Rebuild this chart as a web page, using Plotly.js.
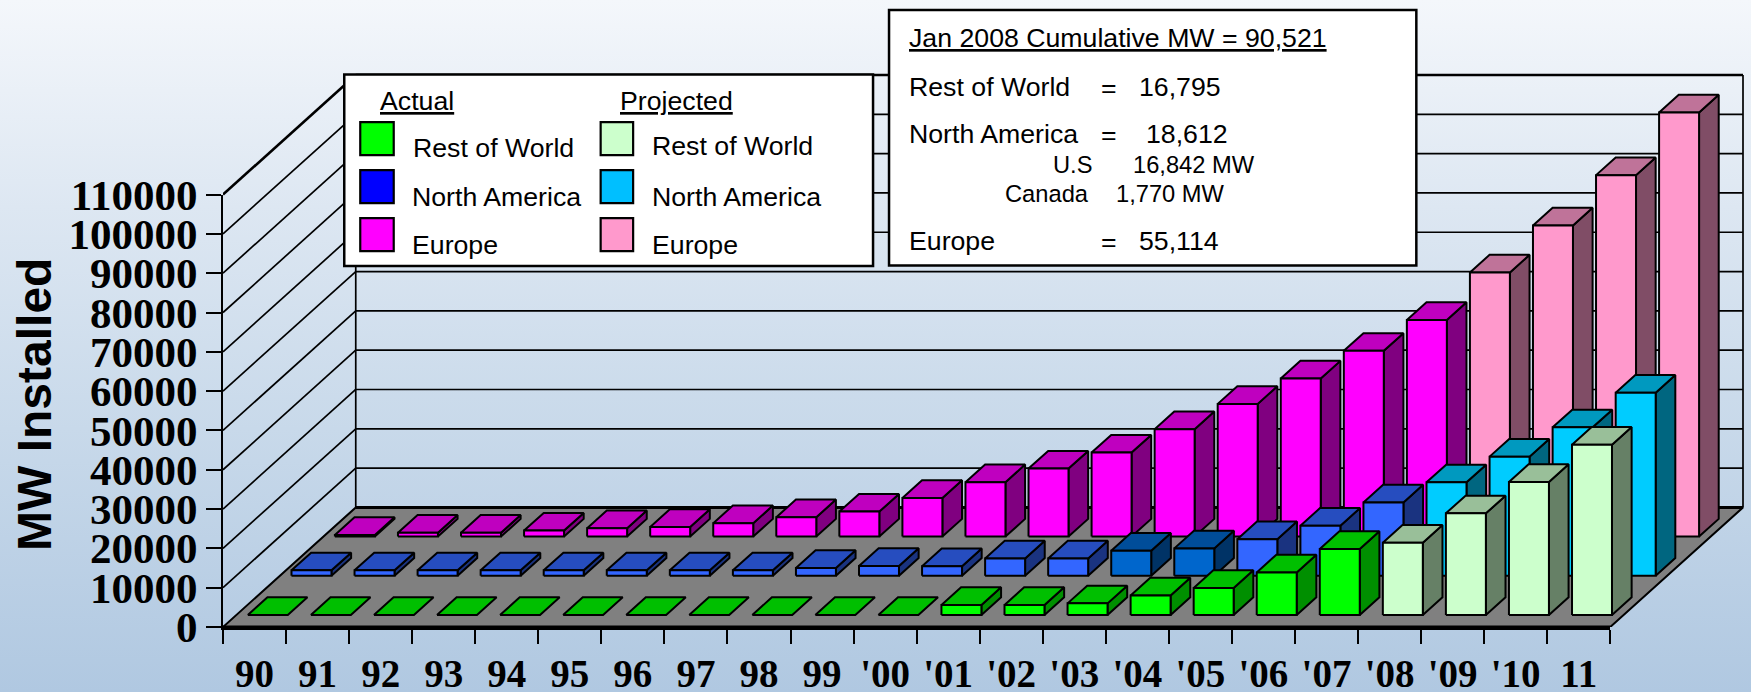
<!DOCTYPE html>
<html>
<head>
<meta charset="utf-8">
<script src="https://cdn.plot.ly/plotly-3.0.1.min.js"></script>
<style>
html,body{margin:0;padding:0;width:1751px;height:692px;overflow:hidden;background:linear-gradient(180deg,#f4f7fb 0%,#dde7f2 30%,#c8d9ea 62%,#b0c8e1 100%);}
#chart{width:1751px;height:692px;}
</style>
</head>
<body>
<div id="chart"></div>
<script>
// ---------- data ----------
const categories = ["90","91","92","93","94","95","96","97","98","99","'00","'01","'02","'03","'04","'05","'06","'07","'08","'09","'10","11"];
const yTicks = [0,10000,20000,30000,40000,50000,60000,70000,80000,90000,100000,110000];
const restOfWorld = [0,0,0,0,0,0,0,0,0,0,0,2550,2550,2970,5000,6870,10850,16795,18400,25870,33840,43340];
const northAmerica = [1360,1360,1360,1360,1360,1360,1360,1360,1950,2470,2400,4400,4400,6360,6950,9300,12700,18612,23750,30290,37740,46560];
const europe = [400,1000,1000,1530,2120,2460,3400,4920,6360,9840,13820,17300,21370,27300,33760,40200,47250,55114,67180,79140,91950,107900];
const firstProjected = 18;
const darkBlueYears = ["'03","'04"];

// ---------- page geometry ----------
const W = 1751, H = 692;
const L = 222.7, R = 1610.5, T = 194.5, B = 627;   // front plane of the chart
const PAD = 4;                                     // keeps the frame's strokes inside the clip area
const pxX = (R - L) / categories.length;
const pxY = (B - T) / 110000;
const depthX = 132.8 / pxX;         // floor depth, in category units
const depthY = 119.6 / pxY;         // floor depth, in MW units
const RR = R + 132.8 + PAD, TT = T - 119.6 - PAD;  // outer plot area including depth
const barHalf = 20 / pxX;
const barDepth = 0.148;
const rows = {green: 0.1, blue: 0.429, magenta: 0.756};

const palette = {
  green:   {front:'#00FF00', top:'#00BF00', side:'#008F00'},
  pale:    {front:'#CCFFCC', top:'#99BF99', side:'#668066'},
  blue:    {front:'#3366FF', top:'#264DBF', side:'#1A3380'},
  dark:    {front:'#0066CC', top:'#004D99', side:'#003366'},
  cyan:    {front:'#00CCFF', top:'#0099BF', side:'#006680'},
  magenta: {front:'#FF00FF', top:'#BF00BF', side:'#800080'},
  pink:    {front:'#FF99CC', top:'#BF7399', side:'#804D66'}
};

// ---------- projection helpers ----------
function polyTrace(name, color, polys, width) {
  const x = [], y = [];
  polys.forEach(p => { p.forEach(q => { x.push(q[0]); y.push(q[1]); }); x.push(p[0][0]); y.push(p[0][1]); x.push(null); y.push(null); });
  return {type:'scatter', mode:'lines', name, x, y, fill:'toself', fillcolor:color,
          line:{color:'#000', width:width || 2, simplify:false}, hoverinfo:'skip', showlegend:false};
}
function lineTrace(name, segs, width) {
  const x = [], y = [];
  segs.forEach(s => { s.forEach(q => { x.push(q[0]); y.push(q[1]); }); x.push(null); y.push(null); });
  return {type:'scatter', mode:'lines', name, x, y,
          line:{color:'#000', width, simplify:false}, hoverinfo:'skip', showlegend:false};
}
function project(cat, mw, t) { return [cat + t * depthX, mw + t * depthY]; }
function barTraces(label, values, idx, rowT, colors) {
  const side = [], top = [], front = [];
  idx.forEach(i => {
    const a = i + 0.5 - barHalf, b = i + 0.5 + barHalf, v = values[i], t0 = rowT, t1 = rowT + barDepth;
    top.push([project(a,v,t0), project(b,v,t0), project(b,v,t1), project(a,v,t1)]);
    if (v > 0) {
      side.push([project(b,0,t0), project(b,0,t1), project(b,v,t1), project(b,v,t0)]);
      front.push([project(a,0,t0), project(b,0,t0), project(b,v,t0), project(a,v,t0)]);
    }
  });
  const out = [];
  if (side.length) out.push(polyTrace(label + ' side', colors.side, side));
  out.push(polyTrace(label + ' top', colors.top, top));
  if (front.length) out.push(polyTrace(label + ' front', colors.front, front));
  return out;
}

// ---------- walls and floor ----------
const n = categories.length, maxTick = yTicks[yTicks.length - 1];
const traces = [];
const thin = [], thick = [];
yTicks.forEach(v => {
  if (v > 0) {
    const seg1 = [project(0,v,0), project(0,v,1)];
    const seg2 = [project(0,v,1), project(n,v,1)];
    (v === maxTick ? thick : thin).push(seg1, seg2);
  }
});
thin.push([project(0,0,1), project(0,maxTick,1)], [project(n,0,1), project(n,maxTick,1)]);
traces.push(lineTrace('Wall grid', thin, 1.7));
traces.push(lineTrace('Wall top', thick, 2.6));
traces.push(polyTrace('Floor', '#808080', [[[0,0],[n,0],[n+depthX,depthY],[depthX,depthY]]], 2));
traces.push(lineTrace('Floor back edge', [[project(0,0,1), project(n,0,1)]], 3));

const all = categories.map((c, i) => i);
const actual = all.filter(i => i < firstProjected);
const projected = all.filter(i => i >= firstProjected);
const isDark = i => darkBlueYears.includes(categories[i]);

traces.push(...barTraces('Europe actual', europe, actual, rows.magenta, palette.magenta));
traces.push(...barTraces('Europe projected', europe, projected, rows.magenta, palette.pink));
traces.push(...barTraces('North America actual', northAmerica, actual.filter(i => !isDark(i)), rows.blue, palette.blue));
traces.push(...barTraces('North America actual (dark)', northAmerica, actual.filter(isDark), rows.blue, palette.dark));
traces.push(...barTraces('North America projected', northAmerica, projected, rows.blue, palette.cyan));
traces.push(...barTraces('Rest of World actual', restOfWorld, actual, rows.green, palette.green));
traces.push(...barTraces('Rest of World projected', restOfWorld, projected, rows.green, palette.pale));

// the front-plane subplot carries the native axes and ticks
const axisCarrier = {type:'scatter', mode:'lines', name:'Axis frame', x:[0,n], y:[0,0], xaxis:'x2', yaxis:'y2',
                     line:{color:'#000', width:3}, hoverinfo:'skip', showlegend:false};
traces.push(axisCarrier);

// ---------- boxes and text ----------
const fx = px => (px - L) / (RR - L);
const fy = py => (B - py) / (B - TT);
function box(x0, y0, x1, y1, fill, w) {
  return {type:'rect', xref:'paper', yref:'paper', x0:fx(x0), x1:fx(x1), y0:fy(y1), y1:fy(y0),
          fillcolor:fill, line:{color:'#000', width:w || 2.5}, layer:'above'};
}
function note(text, x, y, size) {
  return {xref:'paper', yref:'paper', x:fx(x), y:fy(y), xanchor:'left', yanchor:'middle', showarrow:false, text,
          font:{family:'"Liberation Sans", Arial, sans-serif', size:size || 26.7, color:'#000'}};
}
const legendRows = ['Rest of World', 'North America', 'Europe'];
const legendActual = ['#00FF00', '#0000FF', '#FF00FF'];
const legendProjected = ['#CCFFCC', '#00BFFF', '#FF99CC'];
const swatchY = [[122,155],[170,203],[218,251]];
const legendTextY = [[148,146],[197,197],[245,245]];

const shapes = [box(344,74.5,873,266,'#fff'), box(889,10,1416.5,265.5,'#fff')];
legendRows.forEach((r, i) => {
  shapes.push(box(360,swatchY[i][0],393.5,swatchY[i][1],legendActual[i],2.2));
  shapes.push(box(600.5,swatchY[i][0],633,swatchY[i][1],legendProjected[i],2.2));
});
const annotations = [
  note('<u>Actual</u>', 378, 101), note('<u>Projected</u>', 618, 101),
  note('<u>Jan 2008 Cumulative MW = 90,521</u>', 907, 38),
  note('Rest of World', 907, 87), note('=', 1099, 88), note('16,795', 1137, 87),
  note('North America', 907, 134), note('=', 1099, 135), note('18,612', 1144, 134),
  note('U.S', 1051, 165, 23.7), note('16,842 MW', 1131, 165, 23.7),
  note('Canada', 1003, 194, 23.7), note('1,770 MW', 1114, 194, 23.7),
  note('Europe', 907, 241), note('=', 1099, 242), note('55,114', 1137, 241)
];
legendRows.forEach((r, i) => {
  annotations.push(note(r, i === 0 ? 411 : 410, legendTextY[i][0]));
  annotations.push(note(r, 650, legendTextY[i][1]));
});
// vertical axis title, placed as in the reference (it sits below the axis centre there)
annotations.push({xref:'paper', yref:'paper', x:fx(33.5), y:fy(404), xanchor:'center', yanchor:'middle', textangle:-90,
                  showarrow:false, text:'MW Installed',
                  font:{family:'"Liberation Sans", Arial, sans-serif', size:48, color:'#000', weight:'bold'}});

const serif = '"Liberation Serif", "Times New Roman", serif';
const layout = {
  width: W, height: H,
  margin: {l: L, r: W - RR, t: TT, b: H - B, pad: 0},
  paper_bgcolor: 'rgba(0,0,0,0)', plot_bgcolor: 'rgba(0,0,0,0)',
  showlegend: false, shapes, annotations,
  xaxis: {domain:[0,1], range:[0, n + depthX + PAD / pxX], visible:false, fixedrange:true},
  yaxis: {domain:[0,1], range:[0, maxTick + depthY + PAD / pxY], visible:false, fixedrange:true},
  xaxis2: {
    domain:[0,(R - L) / (RR - L)], anchor:'y2', range:[0, n],
    tickmode:'array', tickvals: categories.map((c, i) => i + 0.5), ticktext: categories,
    ticks:'', tickangle:0, ticklabelstandoff:10, showgrid:false, zeroline:false,
    showline:true, linecolor:'#000', linewidth:3, automargin:false,
    tickfont:{family:serif, size:39, color:'#000', weight:'bold'},
    minor:{tickmode:'array', tickvals:[...categories.map((c, i) => i), n], ticks:'outside', ticklen:14, tickwidth:2, tickcolor:'#000', showgrid:false}
  },
  yaxis2: {
    domain:[0,(B - T) / (B - TT)], anchor:'x2', range:[0, maxTick],
    tickmode:'array', tickvals:yTicks, ticktext:yTicks.map(String),
    ticks:'outside', ticklen:15, tickwidth:2, tickcolor:'#000', showgrid:false, zeroline:false,
    showline:true, linecolor:'#000', linewidth:2, automargin:false,
    tickfont:{family:serif, size:43, color:'#000', weight:'bold'}
  }
};
Plotly.newPlot('chart', traces, layout, {displayModeBar:false, staticPlot:true});
</script>
</body>
</html>
